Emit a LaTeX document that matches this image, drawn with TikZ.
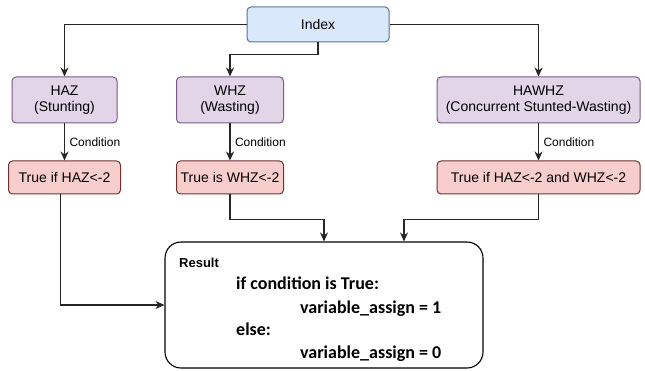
\documentclass[tikz,border=0pt]{standalone}
\usepackage{fontspec}
\setmainfont{Liberation Sans}
\newfontfamily\codefont{Carlito}
\usetikzlibrary{arrows.meta}
\definecolor{bluefill}{HTML}{DAE8FC}
\definecolor{blueline}{HTML}{6C8EBF}
\definecolor{purplefill}{HTML}{E1D5E7}
\definecolor{purpleline}{HTML}{9673A6}
\definecolor{redfill}{HTML}{F8CECC}
\definecolor{redline}{HTML}{B85450}

\begin{document}
\begin{tikzpicture}[x=1pt,y=-1pt,
 box/.style={draw,rounded corners=4pt,line width=1pt,align=center,inner sep=0pt,font=\fontsize{14}{16}\selectfont},
 arr/.style={line width=1.4pt,draw=black!85,-{Stealth[length=9pt,width=8pt]}},
 code/.style={anchor=base west,inner sep=0pt,font=\codefont\bfseries\fontsize{18}{22}\selectfont}]
\useasboundingbox (0,0) rectangle (645,371);
\node[box,fill=bluefill,draw=blueline!80!black,minimum width=142,minimum height=35] (index) at (318,24.5) {Index};
\foreach \n/\x/\w/\cw/\lbl/\cnd in {haz/64.5/105/112/{HAZ\\(Stunting)}/{True if HAZ<-2},
 whz/230/107/107/{WHZ\\(Wasting)}/{True is WHZ<-2},
 hawhz/538.5/203/203/{HAWHZ\\(Concurrent Stunted-Wasting)}/{True if HAZ<-2 and WHZ<-2}}{
 \node[box,fill=purplefill,draw=purpleline!80!black,minimum width=\w,minimum height=46] (\n) at (\x,100) {\lbl};
 \node[box,fill=redfill,draw=redline!60!black,minimum width=\cw,minimum height=33] (\n-c) at (\x,177.5) {\cnd};
 \draw[arr] (\n) -- (\n-c) node[midway,right=1pt,font=\fontsize{12}{14}\selectfont]{Condition};
}
\node[draw,rounded corners=16pt,line width=1.1pt,minimum width=318,minimum height=126] (result) at (324,305) {};
\node[anchor=base west,inner sep=0pt,font=\bfseries\fontsize{13}{15}\selectfont] (title) at (179,268) {Result};
\node[code] (line1) at (236,290) {if condition is True:};
\node[code] (line2) at (300,313) {variable\_assign = 1};
\node[code] (line3) at (236,335) {else:};
\node[code] (line4) at (300,358) {variable\_assign = 0};
\draw[arr] (index.west) -| (haz.north);
\draw[arr] (index.east) -| (hawhz.north);
\draw[arr] (index.south) -- ++(0,12) -| (whz.north);
\draw[arr] ([xshift=-4pt]haz-c.south) |- (result.west);
\draw[arr] (whz-c.south) -- ++(0,25) -| (result.north);
\draw[arr] (hawhz-c.south) -- ++(0,25) -| ([xshift=80pt]result.north);
\end{tikzpicture}
\end{document}
